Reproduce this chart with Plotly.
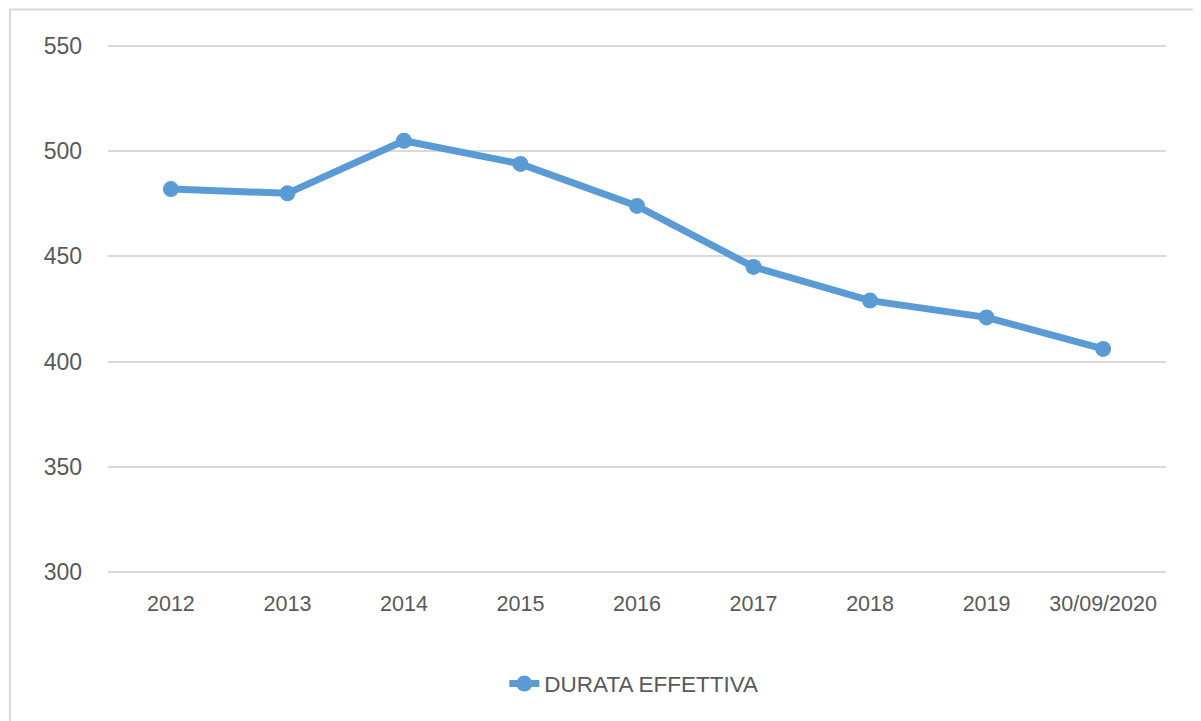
import plotly.graph_objects as go

# dati
anni = ['2012', '2013', '2014', '2015', '2016', '2017', '2018', '2019', '30/09/2020']
durata = [482, 480, 505, 494, 474, 445, 429, 421, 406]

blu = '#5B9BD5'
grigio_testo = '#595959'
griglia = '#D9D9D9'
font_nome = 'Liberation Sans'

fig = go.Figure()

fig.add_trace(go.Scatter(
    x=anni, y=durata, mode='lines+markers', name='DURATA EFFETTIVA',
    line=dict(color=blu, width=7),
    marker=dict(color=blu, size=16)
))

# la pagina ha un margine di 8px, quindi compenso
fig.update_layout(
    width=1193, height=713,
    margin=dict(l=100, r=35, t=36, b=147),
    paper_bgcolor='white', plot_bgcolor='white',
    font=dict(family=font_nome, color=grigio_testo),
    showlegend=True,
    legend=dict(orientation='h', x=0.497, xanchor='center', y=-0.2075, yanchor='middle',
                font=dict(size=22.5, color=grigio_testo)),
    xaxis=dict(type='category', showgrid=False, showline=False, zeroline=False,
               tickfont=dict(size=21.5, color=grigio_testo), ticks='', ticklabelstandoff=14),
    yaxis=dict(range=[299, 551], dtick=50, showgrid=True, gridcolor=griglia, gridwidth=2,
               zeroline=False, showline=False, ticks='',
               tickfont=dict(size=23, color=grigio_testo), ticklabelstandoff=25),
)

# bordo del grafico
fig.add_shape(type='rect', xref='paper', yref='paper',
              x0=-0.0926, x1=1.04, y0=-0.3, y1=1.065,
              line=dict(color=griglia, width=2), fillcolor='rgba(0,0,0,0)', layer='below')

fig.write_html('out.html')
